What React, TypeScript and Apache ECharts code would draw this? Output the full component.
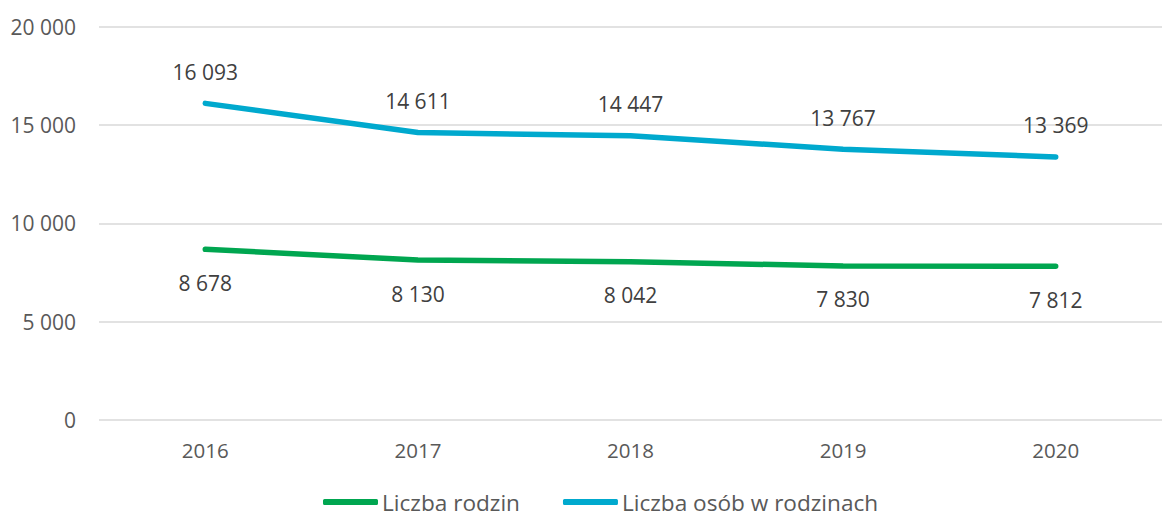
import React, { useEffect, useRef } from "react";
import * as echarts from "echarts";

const years = ["2016", "2017", "2018", "2019", "2020"];
const families = [8678, 8130, 8042, 7830, 7812];
const persons = [16093, 14611, 14447, 13767, 13369];
const seriesNames = ["Liczba rodzin", "Liczba osób w rodzinach"];
const colors = ["#00A650", "#00A9CE"];

const fmt = (v: number) => String(Math.round(v)).replace(/\B(?=(\d{3})+(?!\d))/g, " ");

const FONT = "'Open Sans', sans-serif";
const TXT = "#595959";

export default function App() {
  const ref = useRef<HTMLDivElement>(null);
  useEffect(() => {
    const chart = echarts.init(ref.current!, null, { renderer: "svg" });
    chart.setOption({
      animation: false,
      textStyle: { fontFamily: FONT },
      grid: { left: 99, top: 26.5, width: 1076, height: 393.5, containLabel: false },
      legend: {
        bottom: 2,
        left: 323,
        padding: 0,
        itemWidth: 55,
        itemHeight: 6,
        itemGap: 43,
        icon: "roundRect",
        textStyle: { fontFamily: FONT, fontSize: 22.6, lineHeight: 24, color: TXT, padding: [0, 0, 0, -1] },
        data: seriesNames.map((n, i) => ({ name: n, itemStyle: { color: colors[i] } })),
      },
      xAxis: {
        type: "category",
        data: years,
        axisLine: { show: false },
        axisTick: { show: false },
        axisLabel: { fontFamily: FONT, fontSize: 20.5, color: TXT, margin: 19 },
      },
      yAxis: {
        type: "value",
        min: 0,
        max: 20000,
        interval: 5000,
        axisLine: { show: false },
        axisTick: { show: false },
        splitLine: { lineStyle: { color: "#d9d9d9", width: 1.5 } },
        axisLabel: { fontFamily: FONT, fontSize: 21, color: TXT, margin: 23, formatter: (v: number) => fmt(v) },
      },
      series: [
        {
          name: seriesNames[0],
          type: "line",
          data: families,
          showSymbol: true,
          symbol: "circle",
          symbolSize: 0,
          itemStyle: { color: colors[0] },
          lineStyle: { width: 5.5, color: colors[0], cap: "round" },
          label: {
            show: true,
            position: "bottom",
            distance: 23,
            fontFamily: FONT,
            fontSize: 21,
            color: "#404040",
            formatter: (p: any) => fmt(p.value),
          },
        },
        {
          name: seriesNames[1],
          type: "line",
          data: persons,
          showSymbol: true,
          symbol: "circle",
          symbolSize: 0,
          itemStyle: { color: colors[1] },
          lineStyle: { width: 5.5, color: colors[1], cap: "round" },
          label: {
            show: true,
            position: "top",
            distance: 21,
            fontFamily: FONT,
            fontSize: 21,
            color: "#404040",
            formatter: (p: any) => fmt(p.value),
          },
        },
      ],
    });
    return () => chart.dispose();
  }, []);
  return (
    <div
      ref={ref}
      style={{ position: "fixed", left: 0, top: 0, width: 1162, height: 516, background: "#fff" }}
    />
  );
}
